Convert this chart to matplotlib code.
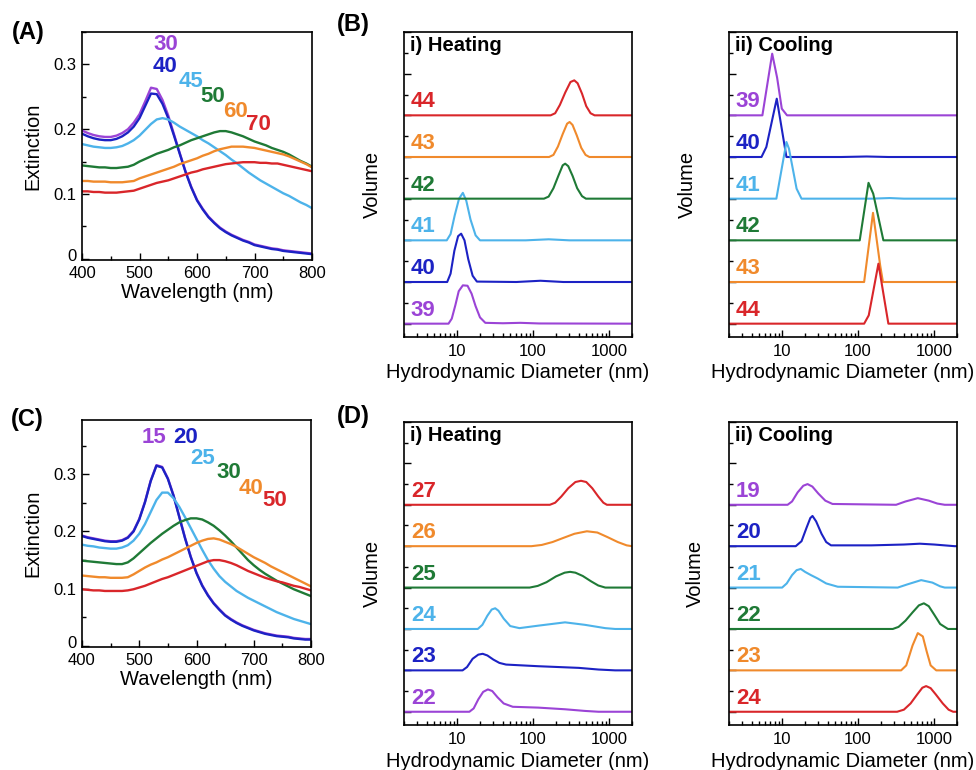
import matplotlib.pyplot as plt
from matplotlib.ticker import MultipleLocator, FixedLocator, NullFormatter
from matplotlib.transforms import ScaledTranslation

plt.rcParams['font.family'] = ['Liberation Sans', 'DejaVu Sans']

W, H = 976, 770

# purple, blue, light blue, green, orange, red
colors = ['#9b44d6', '#1c22c4', '#4db3ea', '#1f7a36', '#f08a2c', '#d9262a']

# ---- (A) extinction spectra ----
wl_a = list(range(400, 801, 10))
ext_a = [
    [.198, .194, .191, .189, .188, .188, .190, .194, .200, .210, .223, .243, .264, .262, .245, .221, .192, .163, .135, .111, .091,
     .077, .065, .056, .048, .042, .037, .033, .029, .026, .022, .020, .018, .016, .015, .013, .012, .011, .010, .009, .008],
    [.193, .189, .186, .184, .183, .183, .185, .189, .195, .204, .217, .236, .255, .254, .239, .217, .190, .162, .134, .110, .090,
     .076, .064, .055, .047, .041, .036, .032, .028, .025, .021, .019, .017, .015, .014, .012, .011, .010, .009, .008, .007],
    [.177, .175, .173, .172, .171, .171, .172, .174, .178, .183, .190, .199, .208, .215, .217, .215, .210, .204, .199, .194, .189,
     .183, .178, .172, .166, .160, .153, .147, .140, .133, .127, .121, .116, .111, .106, .101, .097, .092, .087, .083, .078],
    [.144, .143, .142, .141, .141, .140, .140, .141, .142, .145, .150, .154, .158, .162, .165, .168, .172, .175, .179, .183, .186,
     .189, .192, .195, .197, .197, .195, .192, .189, .185, .181, .178, .175, .171, .168, .165, .161, .156, .151, .147, .142],
    [.120, .120, .119, .119, .119, .118, .118, .118, .119, .120, .124, .127, .130, .133, .136, .139, .142, .146, .149, .152, .155,
     .159, .162, .166, .169, .171, .173, .173, .173, .172, .171, .169, .167, .165, .163, .161, .158, .154, .150, .146, .141],
    [.104, .104, .103, .103, .102, .102, .102, .103, .104, .105, .108, .111, .114, .117, .119, .121, .124, .127, .130, .133, .135,
     .138, .140, .142, .144, .146, .147, .148, .149, .149, .149, .148, .148, .147, .147, .145, .143, .141, .139, .137, .135],
]
temps_a = ['30', '40', '45', '50', '60', '70']

# ---- (C) extinction spectra ----
wl_c = list(range(400, 801, 10))
ext_c = [
    [.193, .190, .188, .186, .184, .183, .183, .185, .190, .201, .222, .252, .289, .316, .313, .293, .263, .226, .189, .156, .128,
     .106, .089, .075, .064, .054, .047, .041, .036, .032, .028, .025, .022, .020, .018, .017, .016, .014, .013, .012, .012],
    [.192, .189, .187, .185, .183, .182, .182, .184, .189, .200, .221, .251, .288, .315, .312, .292, .262, .225, .188, .155, .127,
     .105, .088, .074, .063, .053, .046, .040, .035, .031, .027, .024, .021, .019, .017, .016, .015, .013, .012, .011, .011],
    [.177, .175, .174, .172, .171, .170, .170, .172, .176, .184, .196, .213, .234, .255, .268, .268, .258, .243, .225, .206, .187,
     .168, .150, .135, .122, .112, .104, .096, .090, .084, .079, .074, .069, .064, .059, .055, .051, .047, .044, .041, .038],
    [.149, .148, .147, .146, .145, .144, .143, .143, .146, .153, .162, .171, .180, .188, .196, .203, .210, .216, .220, .223, .223,
     .221, .216, .210, .202, .193, .183, .172, .161, .150, .141, .133, .126, .120, .114, .109, .104, .099, .095, .091, .087],
    [.123, .122, .121, .120, .120, .119, .119, .119, .120, .125, .131, .137, .142, .146, .151, .155, .160, .165, .170, .175, .180,
     .184, .187, .188, .186, .182, .178, .173, .167, .161, .155, .150, .145, .139, .134, .129, .124, .119, .114, .109, .104],
    [.099, .098, .097, .097, .096, .096, .096, .096, .097, .099, .102, .105, .109, .113, .117, .120, .124, .128, .132, .136, .140,
     .144, .148, .150, .150, .148, .145, .141, .136, .131, .127, .123, .119, .116, .113, .111, .108, .105, .103, .100, .097],
]
temps_c = ['15', '20', '25', '30', '40', '50']

wl_ticks = [400, 500, 600, 700, 800]
ext_ticks = [0, 0.1, 0.2, 0.3]
ext_ticklabels = ['0', '0.1', '0.2', '0.3']

# ---- (B) DLS, heating ----
temps_b_heat = ['39', '40', '41', '42', '43', '44']
d_b_heat = [
    [2, 7.7, 8.5, 9.5, 10.5, 11.9, 13.7, 15.5, 17.5, 20, 23.5, 40, 68, 120, 2000],
    [2, 7.4, 8.2, 9.2, 10.3, 11.3, 12.5, 14, 16, 18.2, 60, 125, 250, 2000],
    [2, 7.3, 8.2, 9.3, 10.6, 11.9, 13.2, 15, 17.5, 20, 80, 160, 300, 2000],
    [2, 139, 160, 185, 215, 245, 264, 290, 330, 380, 440, 495, 2000],
    [2, 162, 185, 212, 245, 280, 302, 330, 375, 430, 490, 550, 2000],
    [2, 170, 195, 225, 265, 310, 348, 385, 440, 500, 570, 644, 2000],
]
v_b_heat = [
    [0, 0, 0.12, 0.45, 0.78, 0.92, 0.91, 0.72, 0.42, 0.15, 0.02, 0.01, 0.02, 0.005, 0],
    [0, 0, 0.2, 0.75, 1.1, 1.16, 1.0, 0.55, 0.15, 0.01, 0.0, 0.03, 0.0, 0],
    [0, 0, 0.15, 0.6, 1.0, 1.14, 0.95, 0.5, 0.12, 0.0, 0.0, 0.025, 0.0, 0],
    [0, 0, 0.05, 0.25, 0.55, 0.8, 0.84, 0.78, 0.55, 0.25, 0.06, 0, 0],
    [0, 0, 0.05, 0.25, 0.55, 0.8, 0.84, 0.77, 0.52, 0.22, 0.05, 0, 0],
    [0, 0, 0.05, 0.25, 0.55, 0.8, 0.84, 0.77, 0.52, 0.22, 0.05, 0, 0],
]

# ---- (B) DLS, cooling ----
temps_b_cool = ['39', '40', '41', '42', '43', '44']
d_b_cool = [
    [2, 5.5, 7.4, 8.6, 9.9, 11.6, 2000],
    [2, 5.35, 6.2, 8.5, 11.4, 60, 130, 250, 2000],
    [2, 8.4, 11.4, 12.3, 15.5, 18, 150, 260, 400, 2000],
    [2, 105, 137, 158, 215, 2000],
    [2, 120, 157, 195, 212, 2000],
    [2, 120, 138, 185, 250, 2000],
]
v_b_cool = [
    [0, 0, 1.48, 0.9, 0.16, 0, 0],
    [0, 0, 0.24, 1.4, 0, 0, 0.012, 0, 0],
    [0, 0, 1.36, 1.2, 0.24, 0, 0, 0.015, 0, 0],
    [0, 0, 1.38, 1.12, 0, 0],
    [0, 0, 1.66, 0.4, 0, 0],
    [0, 0, 0.2, 1.44, 0, 0],
]

# ---- (D) DLS, heating ----
temps_d_heat = ['22', '23', '24', '25', '26', '27']
d_d_heat = [
    [2, 14.5, 16.5, 19, 22, 25.4, 29, 34, 41, 54, 117, 263, 480, 725, 2000],
    [2, 11.8, 13.5, 16, 19, 21.7, 25, 30, 36, 44, 117, 400, 725, 1200, 2000],
    [2, 18.7, 21.5, 25, 28.5, 31.7, 35, 41, 50, 66, 117, 263, 480, 890, 1200, 2000],
    [2, 90, 115, 150, 200, 260, 307, 360, 450, 580, 720, 890, 2000],
    [2, 95, 130, 180, 250, 350, 510, 700, 950, 1300, 1700, 2000],
    [2, 166, 195, 235, 290, 360, 427, 500, 600, 720, 840, 935, 2000],
]
v_d_heat = [
    [0, 0, 0.08, 0.3, 0.48, 0.54, 0.5, 0.35, 0.2, 0.12, 0.10, 0.06, 0.02, 0, 0],
    [0, 0, 0.08, 0.28, 0.38, 0.40, 0.36, 0.26, 0.18, 0.14, 0.10, 0.06, 0.02, 0, 0],
    [0, 0, 0.1, 0.32, 0.47, 0.5, 0.44, 0.25, 0.07, 0.02, 0.08, 0.16, 0.1, 0.02, 0, 0],
    [0, 0, 0.04, 0.13, 0.27, 0.36, 0.38, 0.36, 0.28, 0.15, 0.05, 0, 0],
    [0, 0, 0.03, 0.1, 0.2, 0.3, 0.36, 0.33, 0.22, 0.1, 0.02, 0],
    [0, 0, 0.05, 0.2, 0.4, 0.55, 0.58, 0.55, 0.4, 0.2, 0.05, 0, 0],
]

# ---- (D) DLS, cooling ----
temps_d_cool = ['19', '20', '21', '22', '23', '24']
d_d_cool = [
    [2, 11.8, 13.5, 16, 19, 21.6, 25, 30, 37, 46, 316, 420, 610, 850, 1100, 1380, 2000],
    [2, 15.1, 18, 21, 23.5, 25.1, 28, 33, 38, 44, 150, 400, 650, 1000, 1860, 2000],
    [2, 10, 11.5, 13.5, 15.5, 17.6, 20, 24, 29.3, 38, 54, 332, 450, 675, 950, 1200, 1380, 2000],
    [2, 286, 340, 420, 520, 630, 733, 850, 1000, 1200, 1520, 2000],
    [2, 368, 430, 520, 610, 710, 800, 900, 1066, 2000],
    [2, 326, 400, 490, 600, 700, 785, 900, 1050, 1300, 1550, 1780, 2000],
]
v_d_cool = [
    [0, 0, 0.08, 0.3, 0.46, 0.5, 0.44, 0.27, 0.1, 0.02, 0, 0.08, 0.16, 0.1, 0.03, 0, 0],
    [0, 0, 0.12, 0.45, 0.68, 0.73, 0.6, 0.3, 0.1, 0.02, 0.02, 0.04, 0.06, 0.04, 0, 0],
    [0, 0, 0.1, 0.3, 0.42, 0.45, 0.38, 0.3, 0.22, 0.1, 0.02, 0, 0.08, 0.18, 0.12, 0.03, 0, 0],
    [0, 0, 0.05, 0.2, 0.4, 0.57, 0.62, 0.55, 0.35, 0.12, 0, 0],
    [0, 0, 0.12, 0.6, 0.9, 0.82, 0.45, 0.12, 0, 0],
    [0, 0, 0.05, 0.2, 0.42, 0.58, 0.62, 0.57, 0.42, 0.2, 0.05, 0, 0],
]

dls_ticks = [10, 100, 1000]
dls_ticklabels = ['10', '100', '1000']


fig = plt.figure(figsize=(W / 100, H / 100), dpi=100)


def px_axes(left, top, right, bottom):
    return fig.add_axes([left / W, 1 - bottom / H, (right - left) / W, (bottom - top) / H])


def style_common(ax):
    for sp in ax.spines.values():
        sp.set_linewidth(1.2)
    ax.tick_params(which='both', direction='in', top=False, right=False, width=1)
    ax.tick_params(which='major', length=5)
    ax.tick_params(which='minor', length=3)


def draw_spectra(ax, wl, ext, temps, label_pos, ymax):
    for i, (y, t) in enumerate(zip(ext, temps)):
        ax.plot(wl, y, color=colors[i], lw=1.7)
        ax.text(label_pos[i][0], label_pos[i][1], t, color=colors[i], fontsize=16,
                fontweight='bold', ha='center', va='center')
    ax.set_xlim(400, 800)
    ax.set_ylim(-0.002, ymax)
    ax.set_xticks(wl_ticks)
    ax.set_yticks(ext_ticks)
    ax.set_yticklabels(ext_ticklabels)
    ax.xaxis.set_minor_locator(MultipleLocator(50))
    ax.yaxis.set_minor_locator(MultipleLocator(0.05))
    style_common(ax)
    ax.tick_params(axis='x', labelsize=12, pad=4.5)
    ax.tick_params(axis='y', labelsize=12, pad=4)
    ax.set_xlabel('Wavelength (nm)', fontsize=14.5)
    ax.set_ylabel('Extinction', fontsize=14.5)
    ax.xaxis.set_label_coords(0.5, -0.1)
    ax.yaxis.set_label_coords(-0.174, 0.5)
    # nudge the "0" label up a little so it clears the "400" below it
    t0 = ax.yaxis.get_major_ticks()[0]
    t0.label1.set_transform(t0.label1.get_transform() + ScaledTranslation(0, 3 / 72, fig.dpi_scale_trans))


def draw_dls(ax, temps, ds, vs, title, cooling, ylab_x, xlab_y):
    n = len(temps)
    for i, (t, d, v) in enumerate(zip(temps, ds, vs)):
        off = n - 1 - i if cooling else i
        ax.plot(d, [y + off for y in v], color=colors[i], lw=1.5)
        ax.text(0.03, off + 0.19, t, transform=ax.get_yaxis_transform(), color=colors[i],
                fontsize=16, fontweight='bold', ha='left', va='baseline')
    ax.text(0.025, 0.957, title, transform=ax.transAxes, fontsize=14.5, fontweight='bold',
            ha='left', va='center')
    ax.set_xscale('log')
    ax.set_xlim(2, 2000)
    ax.set_ylim(-0.32, 7.0)
    ax.xaxis.set_major_locator(FixedLocator(dls_ticks))
    ax.set_xticklabels(dls_ticklabels)
    ax.xaxis.set_minor_locator(FixedLocator([m * 10 ** e for e in range(0, 4) for m in range(2, 10)]))
    ax.xaxis.set_minor_formatter(NullFormatter())
    ax.yaxis.set_major_locator(MultipleLocator(1))
    ax.yaxis.set_minor_locator(MultipleLocator(0.5))
    ax.set_yticklabels([])
    style_common(ax)
    ax.tick_params(axis='x', labelsize=12, pad=5)
    ax.set_xlabel('Hydrodynamic Diameter (nm)', fontsize=14.5)
    ax.set_ylabel('Volume', fontsize=14.5)
    ax.xaxis.set_label_coords(0.5, xlab_y)
    ax.yaxis.set_label_coords(ylab_x, 0.5)


ax_a = px_axes(82, 32, 312, 260)
draw_spectra(ax_a, wl_a, ext_a, temps_a,
             [(546, 0.330), (545, 0.297), (590, 0.273), (627, 0.250), (667, 0.228), (707, 0.207)], 0.35)

ax_c = px_axes(82, 420, 311, 647)
draw_spectra(ax_c, wl_c, ext_c, temps_c,
             [(526, 0.365), (581, 0.365), (611, 0.327), (656, 0.304), (696, 0.275), (736, 0.254)], 0.395)

ax_bh = px_axes(404, 32, 632, 337)
draw_dls(ax_bh, temps_b_heat, d_b_heat, v_b_heat, 'i) Heating', False, -0.096, -0.085)
ax_bc = px_axes(729, 32, 957, 337)
draw_dls(ax_bc, temps_b_cool, d_b_cool, v_b_cool, 'ii) Cooling', True, -0.14, -0.085)
ax_dh = px_axes(404, 422, 632, 725)
draw_dls(ax_dh, temps_d_heat, d_d_heat, v_d_heat, 'i) Heating', False, -0.096, -0.089)
ax_dc = px_axes(729, 422, 957, 725)
draw_dls(ax_dc, temps_d_cool, d_d_cool, v_d_cool, 'ii) Cooling', True, -0.105, -0.089)

for lab, x, y in [('(A)', 28, 32), ('(B)', 353, 25), ('(C)', 27, 420), ('(D)', 353, 417)]:
    fig.text(x / W, 1 - y / H, lab, fontsize=17, fontweight='bold', ha='center', va='center')

fig.savefig('out.png', dpi=100)
